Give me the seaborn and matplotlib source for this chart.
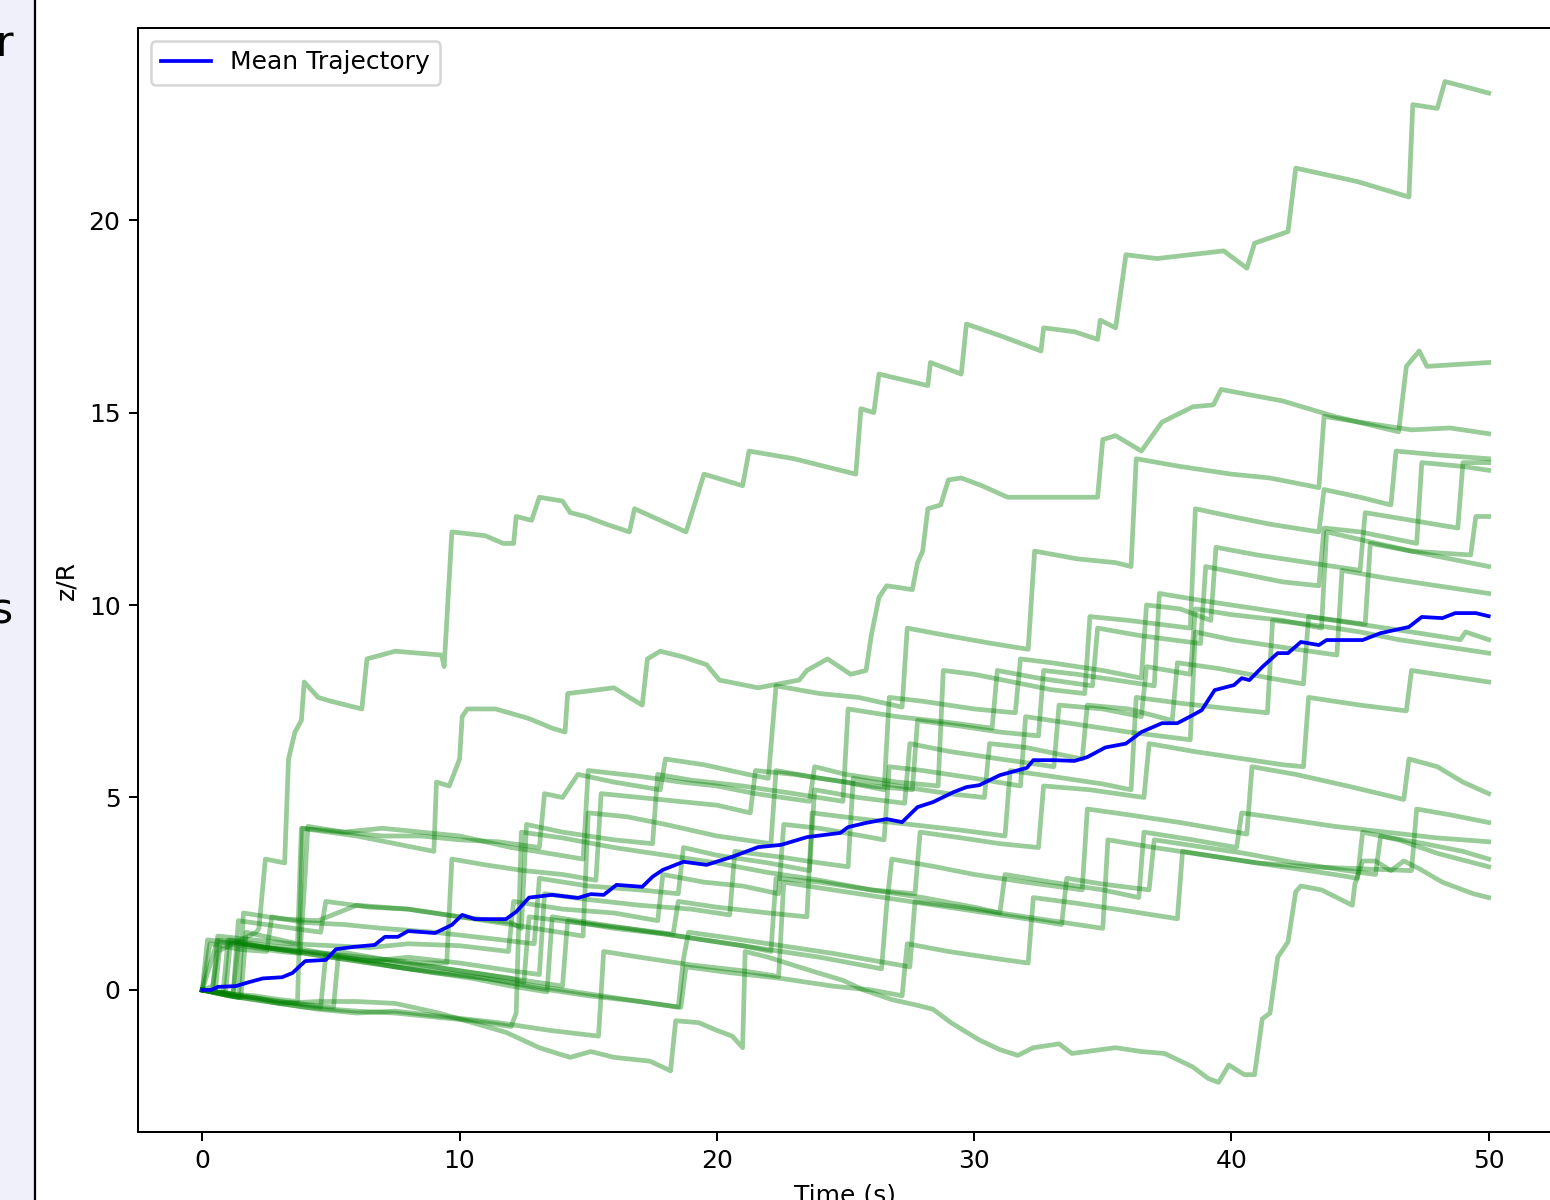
import matplotlib
matplotlib.use("Agg")
import matplotlib.pyplot as plt
from matplotlib.patches import Rectangle
import seaborn as sns

# ---------------- data ----------------
mean_t = [0, 0.35, 0.6, 1.3, 1.8, 2.35, 3.1, 3.5, 4.0, 4.8, 5.2, 5.9, 6.7, 7.1, 7.6, 8.0, 9.05, 9.7,
          10.1, 10.6, 11.8, 12.2, 12.7, 13.6, 14.6, 15.1, 15.6, 16.1, 17.1, 17.5, 17.9, 18.7, 19.6,
          20.6, 21.6, 22.5, 23.5, 24.8, 25.1, 25.8, 26.6, 27.2, 27.8, 28.4, 29.2, 29.7, 30.2, 31.0,
          32.05, 32.3, 33.1, 33.9, 34.4, 35.1, 35.9, 36.5, 37.3, 37.9, 38.5, 38.85, 39.35, 40.1, 40.4,
          40.7, 41.2, 41.8, 42.2, 42.7, 43.4, 43.7, 45.1, 45.8, 46.9, 47.4, 48.2, 48.7, 49.5, 50.0]
mean_z = [0, 0, 0.08, 0.1, 0.2, 0.3, 0.33, 0.44, 0.75, 0.78, 1.06, 1.12, 1.17, 1.38, 1.38, 1.53, 1.48,
          1.69, 1.95, 1.84, 1.84, 2.03, 2.4, 2.47, 2.39, 2.49, 2.47, 2.73, 2.68, 2.94, 3.12, 3.33, 3.25,
          3.46, 3.71, 3.77, 3.97, 4.08, 4.23, 4.34, 4.44, 4.36, 4.75, 4.88, 5.14, 5.27, 5.32, 5.58, 5.77,
          5.97, 5.97, 5.95, 6.05, 6.3, 6.4, 6.7, 6.93, 6.93, 7.14, 7.27, 7.79, 7.92, 8.1, 8.05, 8.39,
          8.75, 8.75, 9.04, 8.96, 9.09, 9.09, 9.27, 9.43, 9.69, 9.66, 9.79, 9.79, 9.71]

traj_01 = [(0, 0), (0.4, 0.1), (0.6, 1.0), (2.1, 1.5), (2.2, 1.6), (2.45, 3.4), (3.2, 3.3), (3.35, 6.0),
           (3.6, 6.7), (3.85, 7.0), (3.96, 8.0), (4.5, 7.6), (5.0, 7.5), (6.2, 7.3), (6.4, 8.6), (7.5, 8.8),
           (9.3, 8.7), (9.4, 8.4), (9.7, 11.9), (11.0, 11.8), (11.7, 11.6), (12.1, 11.6), (12.2, 12.3),
           (12.8, 12.2), (13.1, 12.8), (14.0, 12.7), (14.3, 12.4), (14.9, 12.3), (15.7, 12.1), (16.6, 11.9),
           (16.8, 12.5), (18.8, 11.9), (19.5, 13.4), (21.0, 13.1), (21.25, 14.0), (23.0, 13.8), (25.4, 13.4),
           (25.6, 15.1), (26.1, 15.0), (26.3, 16.0), (28.2, 15.7), (28.3, 16.3), (29.5, 16.0), (29.7, 17.3),
           (31.0, 17.0), (32.6, 16.6), (32.7, 17.2), (33.9, 17.1), (34.8, 16.9), (34.9, 17.4), (35.5, 17.2),
           (35.9, 19.1), (37.1, 19.0), (39.7, 19.2), (40.6, 18.75), (40.9, 19.4), (42.2, 19.7), (42.5, 21.35),
           (44.9, 21.0), (46.9, 20.6), (47.05, 23.0), (48.0, 22.9), (48.3, 23.6), (50.0, 23.3)]
traj_02 = [(0, 0), (1.5, -0.2), (1.7, 1.5), (3.7, 1.2), (3.85, 4.2), (6.0, 4.0), (9.0, 3.6), (9.1, 5.4),
           (9.6, 5.3), (10.0, 6.0), (10.1, 7.1), (10.3, 7.3), (11.4, 7.3), (12.7, 7.05), (13.6, 6.8),
           (14.1, 6.7), (14.2, 7.7), (16.0, 7.85), (16.6, 7.6), (17.1, 7.4), (17.3, 8.6), (17.8, 8.8),
           (18.7, 8.65), (19.6, 8.45), (20.1, 8.05), (21.6, 7.85), (23.2, 8.05), (23.5, 8.3), (24.3, 8.6),
           (25.2, 8.2), (25.8, 8.3), (26.0, 9.2), (26.3, 10.2), (26.6, 10.5), (27.6, 10.4), (27.8, 11.1),
           (28.0, 11.4), (28.2, 12.5), (28.7, 12.6), (29.0, 13.25), (29.5, 13.3), (30.3, 13.1), (31.3, 12.8),
           (32.6, 12.8), (33.9, 12.8), (34.8, 12.8), (35.0, 14.3), (35.5, 14.4), (36.5, 14.0), (37.3, 14.75),
           (38.5, 15.15), (39.3, 15.2), (39.6, 15.6), (42.0, 15.3), (44.0, 14.9), (46.5, 14.5), (46.8, 16.2),
           (47.3, 16.6), (47.6, 16.2), (50.0, 16.3)]
traj_03 = [(0, 0), (0.5, -0.05), (0.7, 1.25), (2.0, 1.1), (3.0, 1.0), (3.8, 0.95), (4.0, 3.0), (4.1, 4.25),
           (5.5, 4.1), (7.0, 4.0), (8.5, 4.0), (10, 3.9), (11.5, 3.85), (13.1, 3.7), (13.3, 5.1), (14.0, 5.0),
           (14.6, 5.6), (16, 5.4), (17.8, 5.2), (18.0, 6.0), (19.5, 5.85), (21.2, 5.6), (22.0, 5.5),
           (22.3, 7.9), (24, 7.7), (25.5, 7.6), (27.2, 7.35), (27.4, 9.4), (29, 9.2), (30.7, 9.0),
           (32.1, 8.85), (32.35, 11.4), (34, 11.2), (35.5, 11.1), (36.1, 11.0), (36.3, 13.8), (38, 13.6),
           (40, 13.4), (41.5, 13.3), (43.4, 13.05), (43.6, 14.9), (45, 14.75), (47, 14.55), (48.5, 14.6),
           (50, 14.45)]
traj_04 = [(0, 0), (1.0, -0.1), (2.0, -0.15), (3.0, -0.25), (3.7, -0.3), (3.9, 4.2), (5.5, 4.1), (7, 4.2),
           (8.5, 4.1), (10, 4.0), (12, 3.7), (13.0, 3.6), (14.8, 3.4), (15.0, 5.7), (17, 5.55), (18.6, 5.4),
           (20, 5.3), (21.5, 5.1), (23.6, 4.9), (23.8, 5.8), (25, 5.6), (27, 5.4), (28.6, 5.3), (28.8, 8.3),
           (30, 8.2), (31.5, 8.0), (33, 7.8), (34.3, 7.7), (34.5, 9.7), (36, 9.6), (38.4, 9.4), (38.6, 12.5),
           (40, 12.3), (41.5, 12.1), (43.4, 11.9), (43.6, 13.0), (45, 12.8), (46.2, 12.6), (46.4, 14.0),
           (48, 13.9), (50, 13.8)]
traj_05 = [(0, 0), (0.8, -0.1), (1.0, 1.3), (2.5, 1.1), (4.0, 1.0), (5.5, 0.9), (7, 0.8), (8.5, 0.7),
           (9.5, 0.7), (9.7, 3.4), (11, 3.25), (12.5, 3.1), (14, 3.0), (15.3, 2.85), (15.5, 5.1), (17, 5.0),
           (18.5, 4.9), (20, 4.8), (21.3, 4.6), (21.5, 5.7), (23, 5.6), (25, 5.4), (26.5, 5.2), (26.7, 7.6),
           (28, 7.5), (30, 7.3), (31.6, 7.2), (31.8, 8.6), (33, 8.5), (35, 8.3), (36.5, 8.1), (36.7, 10.0),
           (38, 9.9), (39.2, 9.6), (39.4, 11.5), (41, 11.3), (43, 11.1), (45, 10.9), (45.2, 12.4), (47, 12.2),
           (48.8, 12.0), (49.0, 13.7), (50, 13.7)]
traj_06 = [(0, 0), (1.4, -0.2), (1.6, 2.0), (3, 1.85), (4.5, 1.8), (6, 2.2), (8, 2.1), (10, 1.9), (12, 1.75),
           (12.4, 1.6), (12.6, 4.3), (14, 4.1), (16, 3.9), (17.5, 3.8), (17.7, 5.6), (19, 5.45), (21, 5.3),
           (23, 5.1), (24.9, 4.9), (25.1, 7.3), (27, 7.1), (29, 6.95), (30.7, 6.8), (30.9, 8.3), (32.5, 8.1),
           (34.6, 7.9), (34.8, 9.4), (36.5, 9.2), (38.8, 9.0), (39.0, 11.0), (40.5, 10.8), (42, 10.6),
           (43.4, 10.5), (43.6, 12.0), (45, 11.9), (47.2, 11.6), (47.4, 13.7), (49, 13.6), (50, 13.5)]
traj_07 = [(0, 0), (1.2, -0.1), (1.4, 1.8), (3, 1.65), (4.6, 1.5), (4.8, 2.3), (6.5, 2.15), (8, 2.1),
           (10, 1.9), (12, 1.7), (14.8, 1.4), (15.0, 4.6), (16.5, 4.5), (18, 4.3), (20, 4.0), (22.1, 3.8),
           (22.3, 5.7), (24, 5.5), (26, 5.3), (27.6, 5.2), (27.8, 7.0), (29.5, 6.85), (31, 6.7), (32.5, 6.6),
           (32.7, 8.3), (34, 8.2), (36, 8.0), (37.0, 7.9), (37.2, 10.3), (39, 10.1), (41, 9.9), (43, 9.7),
           (45.2, 9.5), (45.4, 11.6), (47, 11.4), (49.3, 11.3), (49.5, 12.3), (50, 12.3)]
traj_08 = [(0, 0), (0.3, 1.2), (1.5, 1.05), (2.5, 1.0), (2.7, 1.9), (4, 1.75), (5.5, 1.7), (7, 1.6), (9, 1.5),
           (11, 1.35), (12.9, 1.2), (13.1, 2.9), (15, 2.7), (17, 2.6), (18.5, 2.5), (18.7, 3.7), (20, 3.5),
           (22, 3.3), (23.6, 3.1), (23.8, 5.2), (25.5, 5.0), (27.3, 4.85), (27.5, 6.4), (29, 6.2), (31, 6.0),
           (33.1, 5.8), (33.3, 7.4), (35, 7.3), (36.5, 7.1), (36.7, 8.4), (38.4, 8.2), (38.6, 9.9),
           (40, 9.75), (42, 9.6), (43.5, 9.4), (43.7, 11.9), (45, 11.7), (47, 11.4), (48.5, 11.2), (50, 11.0)]
traj_09 = [(0, 0), (0.4, -0.05), (0.6, 1.4), (2, 1.3), (3.5, 1.2), (5, 1.15), (6.5, 1.1), (8, 1.2),
           (10, 1.15), (11.9, 1.0), (12.1, 2.3), (14, 2.1), (16, 2.0), (17.7, 1.8), (17.9, 3.0), (19.5, 2.8),
           (21, 2.7), (22.4, 2.5), (22.6, 4.3), (24, 4.2), (26.5, 3.9), (26.7, 5.8), (28, 5.7), (30, 5.5),
           (31.8, 5.3), (32.0, 7.1), (34, 6.9), (36, 6.7), (38.4, 6.5), (38.6, 9.3), (40, 9.1), (42, 8.9),
           (44.1, 8.7), (44.3, 10.9), (46, 10.7), (48, 10.5), (50, 10.3)]
traj_10 = [(0, 0), (1.5, -0.15), (3, -0.3), (4.6, -0.45), (4.8, 0.9), (6.5, 0.75), (8, 0.85), (10, 0.7),
           (12, 0.5), (13.1, 0.4), (13.3, 2.5), (15, 2.35), (17, 2.2), (19, 2.1), (20.5, 1.95), (20.7, 3.6),
           (22.5, 3.45), (24, 3.3), (25.1, 3.2), (25.3, 5.5), (27, 5.3), (29, 5.1), (30.4, 5.0), (30.6, 6.4),
           (32, 6.3), (34.2, 6.0), (34.4, 7.4), (36, 7.3), (37.7, 7.0), (37.9, 8.5), (39.5, 8.35),
           (41.5, 8.1), (42.8, 7.95), (43.0, 9.7), (45, 9.5), (47, 9.3), (48.9, 9.1), (49.1, 9.3), (50, 9.1)]
traj_11 = [(0, 0), (0.9, -0.1), (1.1, 1.3), (2.5, 1.15), (3.5, 1.1), (4.8, 0.95), (6, 0.8), (7.5, 0.7),
           (9, 0.6), (10.5, 0.45), (12, 0.3), (12.5, 0.2), (12.7, 1.9), (14.5, 1.75), (16.5, 1.6),
           (18.3, 1.45), (18.5, 2.3), (20, 2.15), (22, 2.0), (23.5, 1.9), (23.7, 4.6), (25.5, 4.45),
           (27.5, 4.3), (29.5, 4.15), (31.2, 4.0), (31.4, 5.7), (33, 5.55), (35, 5.35), (36.1, 5.2),
           (36.3, 7.6), (38, 7.45), (40, 7.3), (41.4, 7.2), (41.6, 9.6), (43, 9.5), (45, 9.3), (46.5, 9.1),
           (48, 8.95), (50, 8.75)]
traj_12 = [(0, 0), (0.2, 1.3), (1.5, 1.2), (3, 1.05), (4.5, 0.95), (6, 0.8), (7.5, 0.6), (9, 0.45),
           (10.5, 0.3), (12, 0.1), (13.4, -0.05), (13.6, 1.9), (15.5, 1.7), (17.5, 1.5), (19, 1.35),
           (21, 1.15), (22.1, 1.0), (22.3, 2.9), (24, 2.8), (26, 2.6), (27.7, 2.5), (27.9, 4.1), (29.5, 3.95),
           (31, 3.8), (32.5, 3.7), (32.7, 5.3), (34.5, 5.2), (36.6, 5.0), (36.8, 6.4), (38.5, 6.2),
           (40.5, 6.0), (42, 5.85), (42.8, 5.8), (43.0, 7.6), (45, 7.4), (46.8, 7.25), (47.0, 8.3),
           (48.5, 8.15), (50, 8.0)]
traj_13 = [(0, 0), (1.5, -0.15), (3, -0.3), (5.1, -0.45), (5.3, 1.0), (7, 0.8), (9, 0.6), (11, 0.4),
           (13, 0.2), (14.0, 0.1), (14.2, 1.8), (16, 1.6), (18, 1.45), (20, 1.25), (22, 1.05), (24, 0.85),
           (26.4, 0.55), (26.6, 2.2), (26.8, 3.4), (28.5, 3.2), (30, 3.0), (32, 2.8), (34.2, 2.6), (34.4, 4.7),
           (36, 4.55), (38, 4.35), (40.6, 4.05), (40.8, 5.8), (42.5, 5.6), (44.5, 5.3), (46.7, 4.95),
           (46.9, 6.0), (48, 5.8), (49, 5.4), (50, 5.1)]
traj_14 = [(0, 0), (1.2, -0.1), (1.4, 1.2), (3, 1.05), (5, 0.85), (7, 0.65), (9, 0.45), (11, 0.3),
           (13, 0.05), (15, -0.15), (17, -0.3), (18.5, -0.45), (18.7, 0.8), (18.9, 1.5), (20.5, 1.35),
           (22.5, 1.15), (24.5, 0.95), (27.5, 0.6), (27.7, 2.3), (29.5, 2.15), (31.5, 1.95), (33.5, 1.75),
           (35.0, 1.6), (35.2, 3.9), (37, 3.7), (39, 3.5), (41, 3.3), (43, 3.2), (45, 3.15), (47.0, 3.1),
           (47.2, 4.7), (48.5, 4.55), (50, 4.35)]
traj_15 = [(0, 0), (1.0, -0.15), (2.5, -0.3), (4, -0.45), (6, -0.55), (7.5, -0.6), (9, -0.7), (10.5, -0.8),
           (12, -0.95), (12.2, -0.6), (12.4, 4.1), (14, 3.95), (16, 3.7), (18, 3.5), (20, 3.3), (22, 3.05),
           (24, 2.85), (26, 2.6), (28, 2.4), (30, 2.15), (31.0, 2.0), (31.2, 3.0), (33, 2.8), (35, 2.6),
           (36.4, 2.4), (36.6, 4.1), (38.5, 3.9), (40.2, 3.7), (40.4, 4.6), (42, 4.45), (44, 4.25),
           (46, 4.1), (48, 3.95), (50, 3.85)]
traj_16 = [(0, 0), (1.5, -0.2), (3, -0.35), (4.5, -0.5), (6, -0.6), (7.5, -0.55), (9.5, -0.7), (11.5, -0.85),
           (13.5, -1.05), (15.4, -1.2), (15.6, 1.0), (17, 0.85), (19, 0.65), (21, 0.5), (22.4, 0.35),
           (22.6, 2.8), (24, 2.65), (26, 2.45), (28, 2.25), (30, 2.05), (32, 1.85), (33.4, 1.7), (33.6, 2.9),
           (35, 2.75), (36.8, 2.6), (37.0, 3.9), (38.5, 3.75), (40.5, 3.55), (42.5, 3.3), (44.5, 3.1),
           (45.6, 3.0), (45.8, 4.0), (47.5, 3.8), (49, 3.6), (50, 3.4)]
traj_17 = [(0, 0), (0.6, 1.3), (2, 1.15), (3.5, 1.0), (5, 0.85), (6.5, 0.7), (8, 0.55), (9.5, 0.45),
           (11, 0.3), (12.5, 0.15), (14, 0.0), (15.5, -0.15), (17, -0.3), (18.6, -0.45), (18.8, 0.6),
           (20.5, 0.45), (22.5, 0.3), (24.5, 0.1), (26, 0.0), (27.2, -0.15), (27.4, 1.2), (29, 1.0),
           (31, 0.8), (32.1, 0.7), (32.3, 2.4), (34, 2.25), (36, 2.05), (37.9, 1.85), (38.1, 3.6), (40, 3.4),
           (42, 3.2), (44, 3.0), (44.9, 2.9), (45.1, 4.1), (46.5, 3.9), (48, 3.55), (50, 3.2)]
traj_18 = [(0, 0), (1, -0.15), (2, -0.2), (3, -0.35), (4.5, -0.3), (6, -0.3), (7.5, -0.35), (9.2, -0.6),
           (10.5, -0.85), (11.8, -1.1), (13.1, -1.5), (13.8, -1.65), (14.3, -1.75), (15.1, -1.6), (16, -1.75),
           (17.4, -1.85), (18.2, -2.1), (18.4, -0.8), (19.3, -0.85), (20, -1.05), (20.6, -1.2), (21.0, -1.5),
           (21.1, 1.0), (22, 0.85), (22.7, 0.7), (23.9, 0.45), (24.9, 0.25), (25.7, 0.0), (26.8, -0.25),
           (27.8, -0.4), (28.4, -0.5), (29.1, -0.85), (30.2, -1.3), (31, -1.55), (31.7, -1.7), (32.3, -1.5),
           (33.3, -1.4), (33.8, -1.65), (35.5, -1.5), (36.5, -1.6), (37.4, -1.65), (38.5, -2.0), (39.1, -2.3),
           (39.5, -2.4), (39.9, -1.95), (40.5, -2.2), (40.9, -2.2), (41.2, -0.75), (41.5, -0.6), (41.8, 0.85),
           (42.2, 1.25), (42.5, 2.55), (42.7, 2.7), (43.5, 2.6), (44.1, 2.4), (44.7, 2.2), (44.8, 2.75),
           (45.1, 3.35), (45.6, 3.35), (46.2, 3.1), (46.7, 3.35), (47.3, 3.15), (48.2, 2.8), (49.4, 2.5),
           (50, 2.4)]

trajectories = [traj_01, traj_02, traj_03, traj_04, traj_05, traj_06, traj_07, traj_08, traj_09,
                traj_10, traj_11, traj_12, traj_13, traj_14, traj_15, traj_16, traj_17, traj_18]

x_ticks = [0, 10, 20, 30, 40, 50]
y_ticks = [0, 5, 10, 15, 20]
x_label = "Time (s)"
y_label = "z/R"
legend_label = "Mean Trajectory"

# ---------------- figure ----------------
W, H, DPI = 1550, 1200, 180
fig = plt.figure(figsize=(W / DPI, H / DPI), dpi=DPI)
fig.patch.set_facecolor("white")

# partial side panel visible at the far left of the crop
fig.patches.append(Rectangle((-0.2, -0.2), 0.2 + 35 / W, 1.4, transform=fig.transFigure,
                             facecolor="#f0f0fa", edgecolor="black", linewidth=0.9, zorder=0))
fig.text(13 / W, 1 - 44 / H, "r", ha="right", va="center", fontsize=17, color="black")
fig.text(13 / W, 1 - 612 / H, "s", ha="right", va="center", fontsize=17, color="black")

ax = fig.add_axes([138 / W, 1 - 1132 / H, (1553 - 138) / W, (1132 - 28) / H])

for tr in trajectories:
    ts = [p[0] for p in tr]
    zs = [p[1] for p in tr]
    sns.lineplot(x=ts, y=zs, ax=ax, color="green", alpha=0.4, linewidth=1.9,
                 sort=False, estimator=None, legend=False)

sns.lineplot(x=mean_t, y=mean_z, ax=ax, color="blue", linewidth=1.5,
             sort=False, estimator=None, label=legend_label)

ax.set_xlim(-2.5, 52.5)
ax.set_ylim(-3.69, 24.99)
ax.set_xticks(x_ticks)
ax.set_yticks(y_ticks)
ax.set_xlabel(x_label)
ax.set_ylabel(y_label)
ax.legend(loc="upper left")

fig.savefig("out.png", dpi=DPI)
